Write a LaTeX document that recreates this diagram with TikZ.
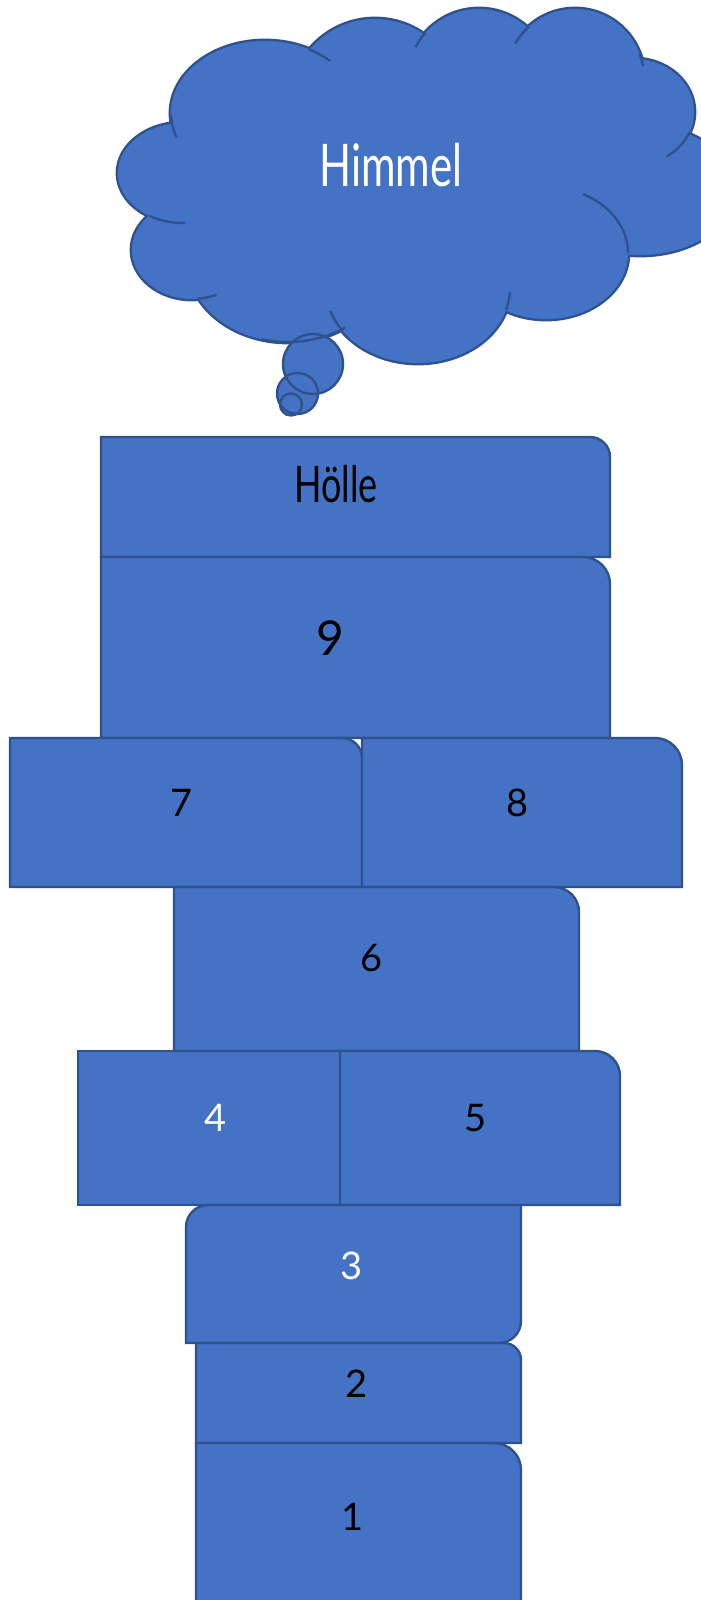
\documentclass[tikz,border=0pt]{standalone}
\usepackage{fontspec}
\setmainfont{Lato}
\definecolor{hfill}{HTML}{4472C4}
\definecolor{hline}{HTML}{2F528F}
\tikzset{
  hop/.style={fill=hfill, draw=hline, line width=2.4pt, line join=miter},
  lbl/.style={inner sep=0pt, anchor=base, font=\fontsize{38}{40}\selectfont},
  hook/.style={draw=hline, line width=2.4pt},
  bubble/.style={draw=hline, line width=2.4pt},
}
\newcommand\boxTR[5]{\draw[hop] (#1,#4) -- (#1,#2) -- ({#3-#5},#2) .. controls ({#3-0.448*#5},#2) and (#3,{#2+0.448*#5}) .. (#3,{#2+#5}) -- (#3,#4) -- cycle;}
\begin{document}
\begin{tikzpicture}[x=1pt,y=-1pt]
\useasboundingbox (0,0) rectangle (701,1600);
\clip (0,0) rectangle (701,1600);
\fill[white] (0,0) rectangle (701,1600);
% cloud: outline by thick strokes, then fill
\foreach \cx/\cy/\rx/\ry in {265/113/94/72, 375/104/85/85, 479/81/72/72, 575/78/69/69, 634/112/60/53, 640/190/95/65, 546/253/82/66, 418/288/92/75, 288/262/100/80, 192/250/60/49, 183/173/65/50}
  {\draw[hline, line width=4.8pt] (\cx,\cy) ellipse [x radius=\rx pt, y radius=\ry pt];}
\foreach \cx/\cy/\rx/\ry in {265/113/94/72, 375/104/85/85, 479/81/72/72, 575/78/69/69, 634/112/60/53, 640/190/95/65, 546/253/82/66, 418/288/92/75, 288/262/100/80, 192/250/60/49, 183/173/65/50}
  {\fill[hfill] (\cx,\cy) ellipse [x radius=\rx pt, y radius=\ry pt];}
\fill[hfill] (265,113) -- (375,104) -- (479,81) -- (575,78) -- (634,112) -- (640,190) -- (546,253) -- (418,288) -- (288,262) -- (192,250) -- (183,173) -- cycle;
% thought bubbles: fills first, outlines over everything
\fill[hfill] (313,364) circle [radius=30pt];
\fill[hfill] (297.5,393.5) circle [radius=20.5pt];
\fill[hfill] (291,404.5) circle [radius=11pt];
\foreach \cx/\cy/\rx/\ry/\a/\b in {265/113/94/72/160/178, 265/113/94/72/-62/-46, 479/81/72/72/208/222, 575/78/69/69/210/228, 575/78/69/69/-21/-10, 634/112/60/53/22/57, 546/253/82/66/-63/0, 418/288/92/75/3/17, 418/288/92/75/145/162, 192/250/60/49/66/85, 183/173/65/50/88/121, 288/262/100/80/55/105}
  {\draw[hook] plot[domain=\a:\b, samples=20, variable=\t] ({\cx+\rx*cos(\t)},{\cy+\ry*sin(\t)});}
\draw[bubble] (313,364) circle [radius=30pt];
\draw[bubble] (297.5,393.5) circle [radius=20.5pt];
\draw[bubble] (291,404.5) circle [radius=11pt];
\node[lbl, text=white, font=\fontsize{42}{44}\selectfont] (himmel) at (391,186) {\scalebox{1}[1.4]{Himmel}};
% boxes
\boxTR{101}{437}{610}{557}{20}
\boxTR{101}{557}{610}{738}{27}
\boxTR{10}{738}{362}{887}{20}
\boxTR{362}{738}{682}{887}{27}
\boxTR{174}{887}{579}{1051}{25}
\draw[hop] (78,1205) rectangle (340,1051);
\boxTR{340}{1051}{620}{1205}{25}
\draw[hop] (186,1343) -- (186,1227) .. controls (186,1214.9) and (195.9,1205) .. (208,1205) -- (521,1205) -- (521,1321) .. controls (521,1333.1) and (511.1,1343) .. (499,1343) -- cycle;
\boxTR{196}{1343}{521}{1443}{17}
\boxTR{196}{1443}{521}{1620}{27}
% labels
\node[lbl, text=black, font=\fontsize{36}{38}\selectfont] (holle) at (336,502) {\scalebox{1}[1.4]{Hölle}};
\node[lbl, text=black, font=\fontsize{48}{50}\selectfont] (t9) at (330,655) {9};
\node[lbl, text=black] (t7) at (182,816) {7};
\node[lbl, text=black] (t8) at (518,816) {8};
\node[lbl, text=black] (t6) at (372,971) {6};
\node[lbl, text=white] (t4) at (216,1131) {4};
\node[lbl, text=black] (t5) at (476,1131) {5};
\node[lbl, text=white] (t3) at (352,1279) {3};
\node[lbl, text=black] (t2) at (357,1397) {2};
\node[lbl, text=black] (t1) at (353,1530) {1};
\end{tikzpicture}
\end{document}
